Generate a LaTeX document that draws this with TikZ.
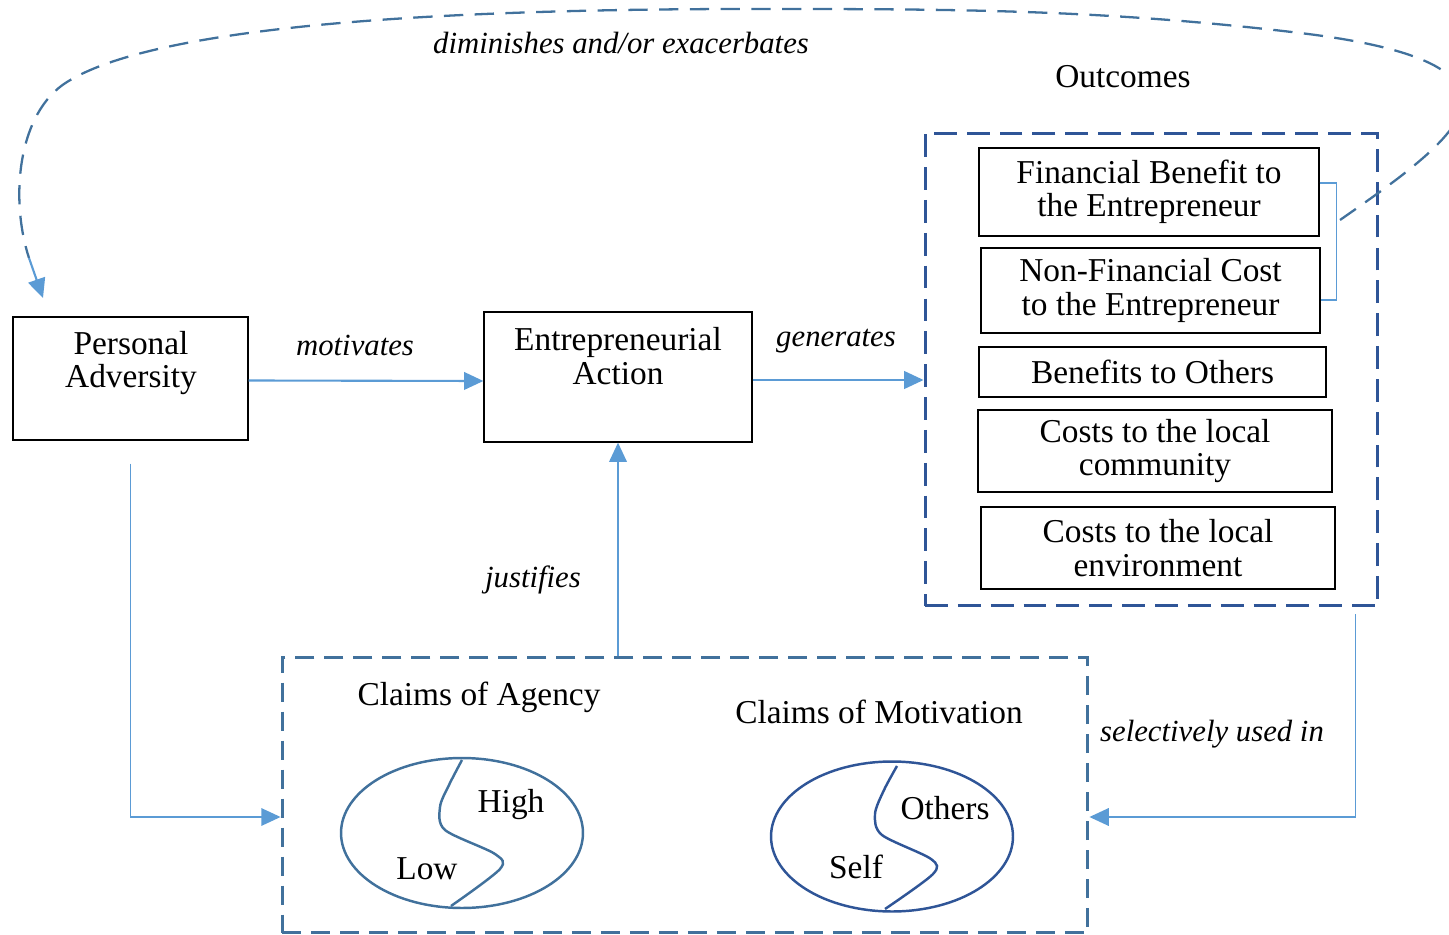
\documentclass[tikz,border=0pt]{standalone}
\usepackage{fontspec}
\setmainfont{Liberation Serif}
\usetikzlibrary{arrows.meta,shapes.geometric}

\definecolor{darkblue}{HTML}{2F5597}
\definecolor{steel}{HTML}{41719C}
\definecolor{lightblue}{HTML}{5B9BD5}

\newcommand{\boxfont}{\fontsize{19pt}{19pt}\selectfont}
\newcommand{\lblfont}{\fontsize{17.5pt}{17.5pt}\selectfont\itshape}

\tikzset{
    box/.style={draw=black, line width=0.75pt, align=center, inner sep=0pt, font=\boxfont},
    txt/.style={align=center, inner sep=0pt, font=\boxfont},
    lbl/.style={inner sep=0pt, font=\lblfont},
    outbox/.style={draw=darkblue, line width=1.7pt, dash pattern=on 13pt off 5.7pt},
    claimbox/.style={draw=steel, line width=1.7pt, dash pattern=on 11pt off 5.5pt},
    oval/.style={ellipse, line width=1.4pt, minimum width=4.84cm, minimum height=3cm, inner sep=0pt},
    flow/.style={lightblue, line width=1.2pt, -{Triangle[length=11pt, width=10pt]}},
    link/.style={lightblue, line width=0.9pt, -{Triangle[length=11pt, width=10pt]}},
    feedback/.style={steel, line width=1.3pt, dash pattern=on 11pt off 6.5pt}
}

\begin{document}
\begin{tikzpicture}[x=0.02cm, y=-0.02cm]
    \useasboundingbox (0,0) rectangle (1449,935);
    \clip (0,0) rectangle (1449,935);

    \node[box, minimum width=4.7cm, minimum height=2.46cm] (adv) at (130.5,378.5) {};
    \node[txt] (advtext) at (131,363) {Personal\\Adversity};
    \node[box, minimum width=5.36cm, minimum height=2.6cm] (act) at (618,377) {};
    \node[txt] (acttext) at (618,356) {Entrepreneurial\\Action};

    \node[outbox, minimum width=9.06cm, minimum height=9.46cm] (outc) at (1151.5,369.5) {};
    \node[txt] (outtext) at (1123,77) {Outcomes};
    \foreach \nm/\x/\y/\w/\h/\words in {
        fin/1149/192/6.8/1.76/Financial Benefit to\\the Entrepreneur,
        nfc/1150.5/290.5/6.78/1.7/Non-Financial Cost\\to the Entrepreneur,
        ben/1152.5/372/6.94/1.0/Benefits to Others,
        com/1155/451/7.08/1.64/Costs to the local\\community,
        env/1158/548/7.08/1.64/Costs to the local\\environment} {
        \node[box, minimum width=\w cm, minimum height=\h cm] (\nm) at (\x,\y) {\words};
    }
    \draw[lightblue, line width=0.6pt] ([yshift=0.18cm]fin.east) -- ++(17,0) |- ([yshift=-0.19cm]nfc.east);

    \node[claimbox, minimum width=16.12cm, minimum height=5.52cm] (claims) at (685,795) {};
    \node[txt] (agtext) at (479,697) {Claims of Agency};
    \node[txt] (motext) at (879,712) {Claims of Motivation};

    \node[oval, draw=steel] (agency) at (462,833) {};
    \draw[steel, line width=1.4pt] plot[smooth] coordinates {(462,760) (449,785) (440,807) (445,830) (495,854) (500,869) (451,906)};
    \node[txt] (high) at (511,805) {High};
    \node[txt] (low) at (427,869) {Low};

    \node[oval, draw=darkblue] (motiv) at (892,836.5) {};
    \draw[darkblue, line width=1.4pt] plot[smooth] coordinates {(897,766) (884,790) (875,814) (882,835) (931,859) (933,874) (885,909)};
    \node[txt] (others) at (945,808) {Others};
    \node[txt] (self) at (856,867) {Self};

    \draw[flow] ([yshift=-0.04cm]adv.east) -- ([yshift=-0.08cm]act.west);
    \node[lbl] (motivates) at (355,345) {motivates};
    \draw[flow] ([yshift=-0.06cm]act.east) -- ([yshift=-0.06cm]act.east -| outc.west);
    \node[lbl] (generates) at (836,341) {generates};
    \draw[flow] (act.south |- claims.north) -- (act.south);
    \node[lbl] (justifies) at (533,580) {justifies};
    \draw[link] ([yshift=-0.46cm]adv.south) |- ([yshift=-0.44cm]claims.west);
    \draw[link] ([xshift=-0.48cm, yshift=-0.14cm]outc.south east) |- ([yshift=-0.44cm]claims.east);
    \node[lbl] (selective) at (1212,734) {selectively used in};

    \coordinate (arcstart) at (1340,220);
    \coordinate (arcend) at (29,258);
    \coordinate (tip) at (43,298);
    \draw[feedback] (arcstart) .. controls (1400,178) and (1470,130) .. (1462,95)
        .. controls (1455,65) and (1400,45) .. (1300,33)
        .. controls (1100,9) and (950,9) .. (750,9)
        .. controls (400,9) and (150,30) .. (67,82)
        .. controls (17,113) and (10,200) .. (arcend);
    \draw[flow] (arcend) -- (tip);
    \node[lbl] (diminish) at (621,43) {diminishes and/or exacerbates};
\end{tikzpicture}
\end{document}
